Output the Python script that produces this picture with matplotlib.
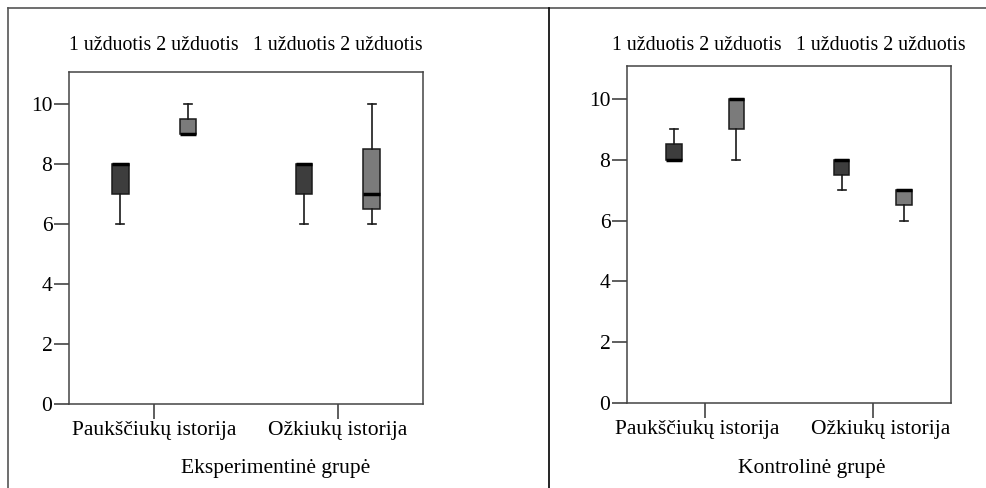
import matplotlib.pyplot as plt
from matplotlib.lines import Line2D
from matplotlib.transforms import ScaledTranslation, blended_transform_factory

plt.rcParams['font.family'] = 'serif'
plt.rcParams['font.serif'] = ['Liberation Serif', 'DejaVu Serif']

stories = ["Paukščiukų istorija", "Ožkiukų istorija"]
tasks = ["1 užduotis", "2 užduotis"]
panel_titles = ["Eksperimentinė grupė", "Kontrolinė grupė"]

# box stats per panel: [story][task] -> (whislo, q1, med, q3, whishi)
exp_stats = [
    [(6, 7, 8, 8, 8), (9, 9, 9, 9.5, 10)],
    [(6, 7, 8, 8, 8), (6, 6.5, 7, 8.5, 10)],
]
ctrl_stats = [
    [(8, 8, 8, 8.5, 9), (8, 9, 10, 10, 10)],
    [(7, 7.5, 8, 8, 8), (6, 6.5, 7, 7, 7)],
]

task_colors = ["#3d3d3d", "#7b7b7b"]
offset = 0.185
yticks = [0, 2, 4, 6, 8, 10]

fig = plt.figure(figsize=(9.86, 4.88), dpi=100)
W, H = 986, 488

# frame around the two panels
fig.add_artist(Line2D([8 / W, 1], [1 - 8 / H, 1 - 8 / H], color="#555555", lw=1.2))
fig.add_artist(Line2D([8 / W, 8 / W], [0, 1 - 8 / H], color="#555555", lw=1.2))
fig.add_artist(Line2D([549 / W, 549 / W], [0, 1 - 8 / H], color="black", lw=1.2))


def draw_panel(rect, stats, title, title_x, shift):
    l, b, r, t = rect
    ax = fig.add_axes([l / W, 1 - b / H, (r - l) / W, (b - t) / H])
    top = blended_transform_factory(ax.transData, fig.transFigure)
    for gi, group in enumerate(stats):
        for ti, s in enumerate(group):
            d = dict(whislo=s[0], q1=s[1], med=s[2], q3=s[3], whishi=s[4], fliers=[])
            pos = gi + (ti * 2 - 1) * offset
            ax.bxp([d], positions=[pos], widths=0.09, patch_artist=True,
                   showfliers=False, capwidths=0.045,
                   boxprops=dict(facecolor=task_colors[ti], edgecolor="#1a1a1a", lw=1.1),
                   medianprops=dict(color="black", lw=2.5),
                   whiskerprops=dict(color="#1a1a1a", lw=1.2),
                   capprops=dict(color="#1a1a1a", lw=1.2))
        # task labels above each story group
        nudge = ScaledTranslation((2 * gi - 1) * shift / 100, 0, fig.dpi_scale_trans)
        ax.text(gi, 1 - 45 / H, tasks[0] + " " + tasks[1], ha="center", va="center",
                fontsize=14.3, transform=top + nudge)
    ax.set_xlim(-0.465, 1.465)
    ax.set_ylim(0, 11.08)
    ax.set_yticks(yticks)
    ax.set_xticks([0, 1])
    ax.set_xticklabels(stories)
    ax.tick_params(axis="both", direction="out", length=11, width=1.1,
                   color="#333333", labelsize=15.5, pad=1)
    for i, lab in enumerate(ax.get_xticklabels()):
        lab.set_transform(lab.get_transform() +
                          ScaledTranslation((2 * i - 1) * shift / 100, 0, fig.dpi_scale_trans))
    for sp in ax.spines.values():
        sp.set_color("#444444")
        sp.set_linewidth(1.1)
    fig.text(title_x / W, 1 - 468 / H, title, ha="center", va="center", fontsize=15.5)
    return ax


draw_panel((69, 404, 423, 72), exp_stats, panel_titles[0], 276, 0)
draw_panel((627, 403, 951, 66), ctrl_stats, panel_titles[1], 812, 8)

fig.savefig("out.png", dpi=100)
